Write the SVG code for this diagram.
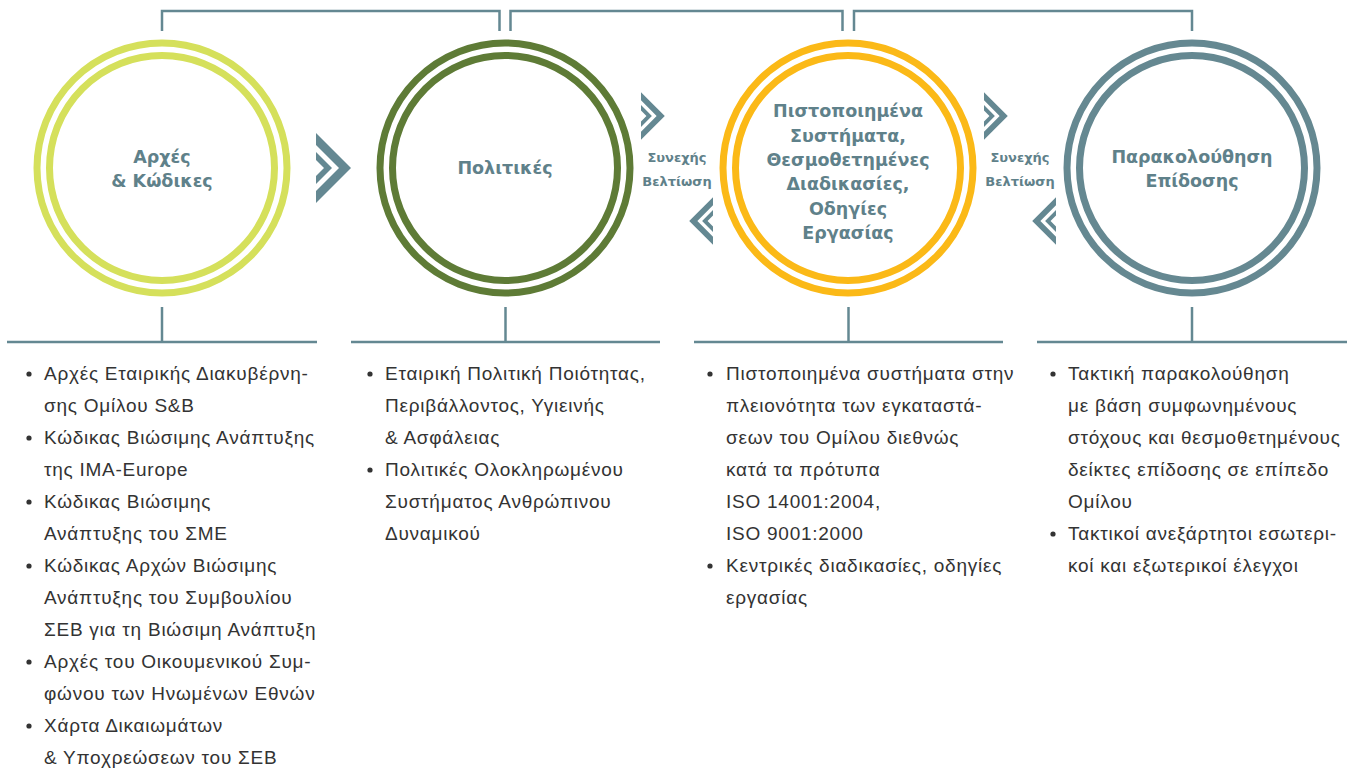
<svg xmlns="http://www.w3.org/2000/svg" width="1347" height="769" viewBox="0 0 1347 769">
<style>
.conn{fill:none;stroke:#648892;stroke-width:2.5;stroke-linejoin:miter}
.ring{fill:none;stroke-width:7}
.title{font-family:"DejaVu Sans",Verdana,sans-serif;font-weight:bold;font-size:17.5px;fill:#5f818a;text-anchor:middle}
.loop{font-family:"DejaVu Sans",Verdana,sans-serif;font-weight:bold;font-size:13px;fill:#5f818a;text-anchor:middle}
.item{font-family:"Liberation Sans",Arial,sans-serif;font-size:19px;letter-spacing:0.75px;fill:#333333}
.bul{fill:#333333}
.chev{fill:#648892}
</style>
<defs>
<g id="chev">
<path d="M0,-35 L35,0 L0,35 L0,23 L23,0 L0,-23 Z"/>
<path d="M0,-16 L16,0 L0,16 L0,8 L8,0 L0,-8 Z"/>
</g>
</defs>
<rect width="1347" height="769" fill="#ffffff"/>
<g id="connectors">
<polyline class="conn" points="162,31 162,11 499.5,11 499.5,31"/>
<polyline class="conn" points="510.5,31 510.5,11 842.5,11 842.5,31"/>
<polyline class="conn" points="854,31 854,11 1192,11 1192,31"/>
<line class="conn" x1="162" y1="307" x2="162" y2="342"/>
<line class="conn" x1="7" y1="342" x2="317" y2="342"/>
<line class="conn" x1="505.5" y1="307" x2="505.5" y2="342"/>
<line class="conn" x1="351" y1="342" x2="660" y2="342"/>
<line class="conn" x1="848.5" y1="307" x2="848.5" y2="342"/>
<line class="conn" x1="694" y1="342" x2="1003" y2="342"/>
<line class="conn" x1="1192" y1="307" x2="1192" y2="342"/>
<line class="conn" x1="1037" y1="342" x2="1347" y2="342"/>
<use href="#chev" class="chev" transform="translate(316,168)"/>
<use href="#chev" class="chev" transform="translate(641,116) scale(0.68)"/>
<use href="#chev" class="chev" transform="translate(713,221) scale(-0.68,0.68)"/>
<use href="#chev" class="chev" transform="translate(984,116) scale(0.68)"/>
<use href="#chev" class="chev" transform="translate(1056,221) scale(-0.68,0.68)"/>
<text class="loop" x="677" y="162">Συνεχής</text>
<text class="loop" x="677" y="186">Βελτίωση</text>
<text class="loop" x="1020" y="162">Συνεχής</text>
<text class="loop" x="1020" y="186">Βελτίωση</text>
</g>
<g id="node1">
<circle class="ring" cx="162" cy="168" r="125" stroke="#d5e05b"/>
<circle class="ring" cx="162" cy="168" r="112.5" stroke="#d5e05b"/>
<text class="title" x="162" y="163">Αρχές</text>
<text class="title" x="162" y="187">&amp; Κώδικες</text>
</g>
<g id="node2">
<circle class="ring" cx="505" cy="168" r="125" stroke="#5e7b36"/>
<circle class="ring" cx="505" cy="168" r="112.5" stroke="#5e7b36"/>
<text class="title" x="505" y="174">Πολιτικές</text>
</g>
<g id="node3">
<circle class="ring" cx="848" cy="168" r="125" stroke="#fbb917"/>
<circle class="ring" cx="848" cy="168" r="112.5" stroke="#fbb917"/>
<text class="title" x="848" y="117">Πιστοποιημένα</text>
<text class="title" x="848" y="141.5">Συστήματα,</text>
<text class="title" x="848" y="166">Θεσμοθετημένες</text>
<text class="title" x="848" y="190">Διαδικασίες,</text>
<text class="title" x="848" y="214.5">Οδηγίες</text>
<text class="title" x="848" y="238.5">Εργασίας</text>
</g>
<g id="node4">
<circle class="ring" cx="1192" cy="168" r="125" stroke="#658891"/>
<circle class="ring" cx="1192" cy="168" r="112.5" stroke="#658891"/>
<text class="title" x="1192" y="163">Παρακολούθηση</text>
<text class="title" x="1192" y="187">Επίδοσης</text>
</g>
<g id="list1">
<circle class="bul" cx="29" cy="374" r="2.6"/>
<circle class="bul" cx="29" cy="438" r="2.6"/>
<circle class="bul" cx="29" cy="502" r="2.6"/>
<circle class="bul" cx="29" cy="566" r="2.6"/>
<circle class="bul" cx="29" cy="662" r="2.6"/>
<circle class="bul" cx="29" cy="726" r="2.6"/>
<text class="item" x="44" y="380">Αρχές Εταιρικής Διακυβέρνη-</text>
<text class="item" x="44" y="412">σης Ομίλου S&amp;B</text>
<text class="item" x="44" y="444">Κώδικας Βιώσιμης Ανάπτυξης</text>
<text class="item" x="44" y="476">της IMA-Europe</text>
<text class="item" x="44" y="508">Κώδικας Βιώσιμης</text>
<text class="item" x="44" y="540">Ανάπτυξης του ΣΜΕ</text>
<text class="item" x="44" y="572">Κώδικας Αρχών Βιώσιμης</text>
<text class="item" x="44" y="604">Ανάπτυξης του Συμβουλίου</text>
<text class="item" x="44" y="636">ΣΕΒ για τη Βιώσιμη Ανάπτυξη</text>
<text class="item" x="44" y="668">Αρχές του Οικουμενικού Συμ-</text>
<text class="item" x="44" y="700">φώνου των Ηνωμένων Εθνών</text>
<text class="item" x="44" y="732">Χάρτα Δικαιωμάτων</text>
<text class="item" x="44" y="764">&amp; Υποχρεώσεων του ΣΕΒ</text>
</g>
<g id="list2">
<circle class="bul" cx="370" cy="374" r="2.6"/>
<circle class="bul" cx="370" cy="470" r="2.6"/>
<text class="item" x="385" y="380">Εταιρική Πολιτική Ποιότητας,</text>
<text class="item" x="385" y="412">Περιβάλλοντος, Υγιεινής</text>
<text class="item" x="385" y="444">&amp; Ασφάλειας</text>
<text class="item" x="385" y="476">Πολιτικές Ολοκληρωμένου</text>
<text class="item" x="385" y="508">Συστήματος Ανθρώπινου</text>
<text class="item" x="385" y="540">Δυναμικού</text>
</g>
<g id="list3">
<circle class="bul" cx="710" cy="374" r="2.6"/>
<circle class="bul" cx="710" cy="566" r="2.6"/>
<text class="item" x="726" y="380">Πιστοποιημένα συστήματα στην</text>
<text class="item" x="726" y="412">πλειονότητα των εγκαταστά-</text>
<text class="item" x="726" y="444">σεων του Ομίλου διεθνώς</text>
<text class="item" x="726" y="476">κατά τα πρότυπα</text>
<text class="item" x="726" y="508">ISO 14001:2004,</text>
<text class="item" x="726" y="540">ISO 9001:2000</text>
<text class="item" x="726" y="572">Κεντρικές διαδικασίες, οδηγίες</text>
<text class="item" x="726" y="604">εργασίας</text>
</g>
<g id="list4">
<circle class="bul" cx="1053" cy="374" r="2.6"/>
<circle class="bul" cx="1053" cy="534" r="2.6"/>
<text class="item" x="1068" y="380">Τακτική παρακολούθηση</text>
<text class="item" x="1068" y="412">με βάση συμφωνημένους</text>
<text class="item" x="1068" y="444">στόχους και θεσμοθετημένους</text>
<text class="item" x="1068" y="476">δείκτες επίδοσης σε επίπεδο</text>
<text class="item" x="1068" y="508">Ομίλου</text>
<text class="item" x="1068" y="540">Τακτικοί ανεξάρτητοι εσωτερι-</text>
<text class="item" x="1068" y="572">κοί και εξωτερικοί έλεγχοι</text>
</g>
</svg>
